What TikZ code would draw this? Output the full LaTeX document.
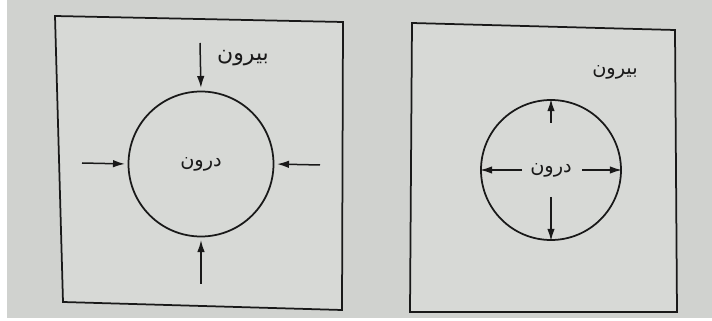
\documentclass[tikz,border=0pt]{standalone}
\usepackage{fontspec}
\newfontfamily\arabicfont[Script=Arabic]{DejaVu Sans}
\TeXXeTstate=1
\usetikzlibrary{arrows.meta, positioning}
\definecolor{pagegray}{RGB}{208,210,207}
\definecolor{boxgray}{RGB}{215,217,214}
\definecolor{inkblack}{RGB}{25,25,25}

\begin{document}
\begin{tikzpicture}[
    x=0.2mm, y=-0.2mm,
    % Define standard styles for the diagram components
    panel/.style={
        draw=inkblack,
        line width=0.35mm,
        fill=boxgray
    },
    ring/.style={
        circle,
        draw=inkblack,
        line width=0.35mm,
        inner sep=0pt,
        text=inkblack,
        font=\arabicfont\fontsize{11}{13}\selectfont
    },
    label/.style={
        text=inkblack,
        inner sep=0pt,
        font=\arabicfont\fontsize{11}{13}\selectfont
    },
    arrow/.style={
        -{Latex[length=2.4mm, width=1.5mm]},
        line width=0.3mm,
        draw=inkblack
    }
]

% --- Page ---
\fill[white] (0,0) rectangle (712,321);
\fill[pagegray] (7,0) rectangle (712,318);

% --- Left panel: pressure from outside ---
\draw[panel] (55,16) -- (343,22) -- (342,310) -- (63,302) -- cycle;
\node[ring, minimum size=2.9cm] (inL) at (201,164) {\beginR درون\endR};
\node[label, font=\arabicfont\fontsize{12.5}{14}\selectfont] (outL) at (243,58) {\beginR بیرون\endR};

\coordinate (nL) at (200,43);
\coordinate (sL) at (201,284);
\coordinate (wL) at (82,163);
\coordinate (eL) at (320,165);

\draw[arrow, shorten >=1.5pt] (nL) -- (inL.north);
\draw[arrow, shorten >=1.5pt] (sL) -- (inL.south);
\draw[arrow, shorten >=1.5pt] (wL) -- (inL.west);
\draw[arrow, shorten >=1.5pt] (eL) -- (inL.east);

% --- Right panel: pressure from inside ---
\draw[panel] (412,23) -- (675,30) -- (677,312) -- (410,312) -- cycle;
\node[ring, minimum size=2.8cm] (inR) at (551,170) {\beginR درون\endR};
\node[label] (outR) at (615,72) {\beginR بیرون\endR};

\coordinate (nR) at (551,123);
\coordinate (sR) at (551,197);
\coordinate (wR) at (522,170);
\coordinate (eR) at (582,170);

\draw[arrow] (nR) -- (inR.north);
\draw[arrow] (sR) -- (inR.south);
\draw[arrow] (wR) -- (inR.west);
\draw[arrow] (eR) -- (inR.east);

\end{tikzpicture}
\end{document}
